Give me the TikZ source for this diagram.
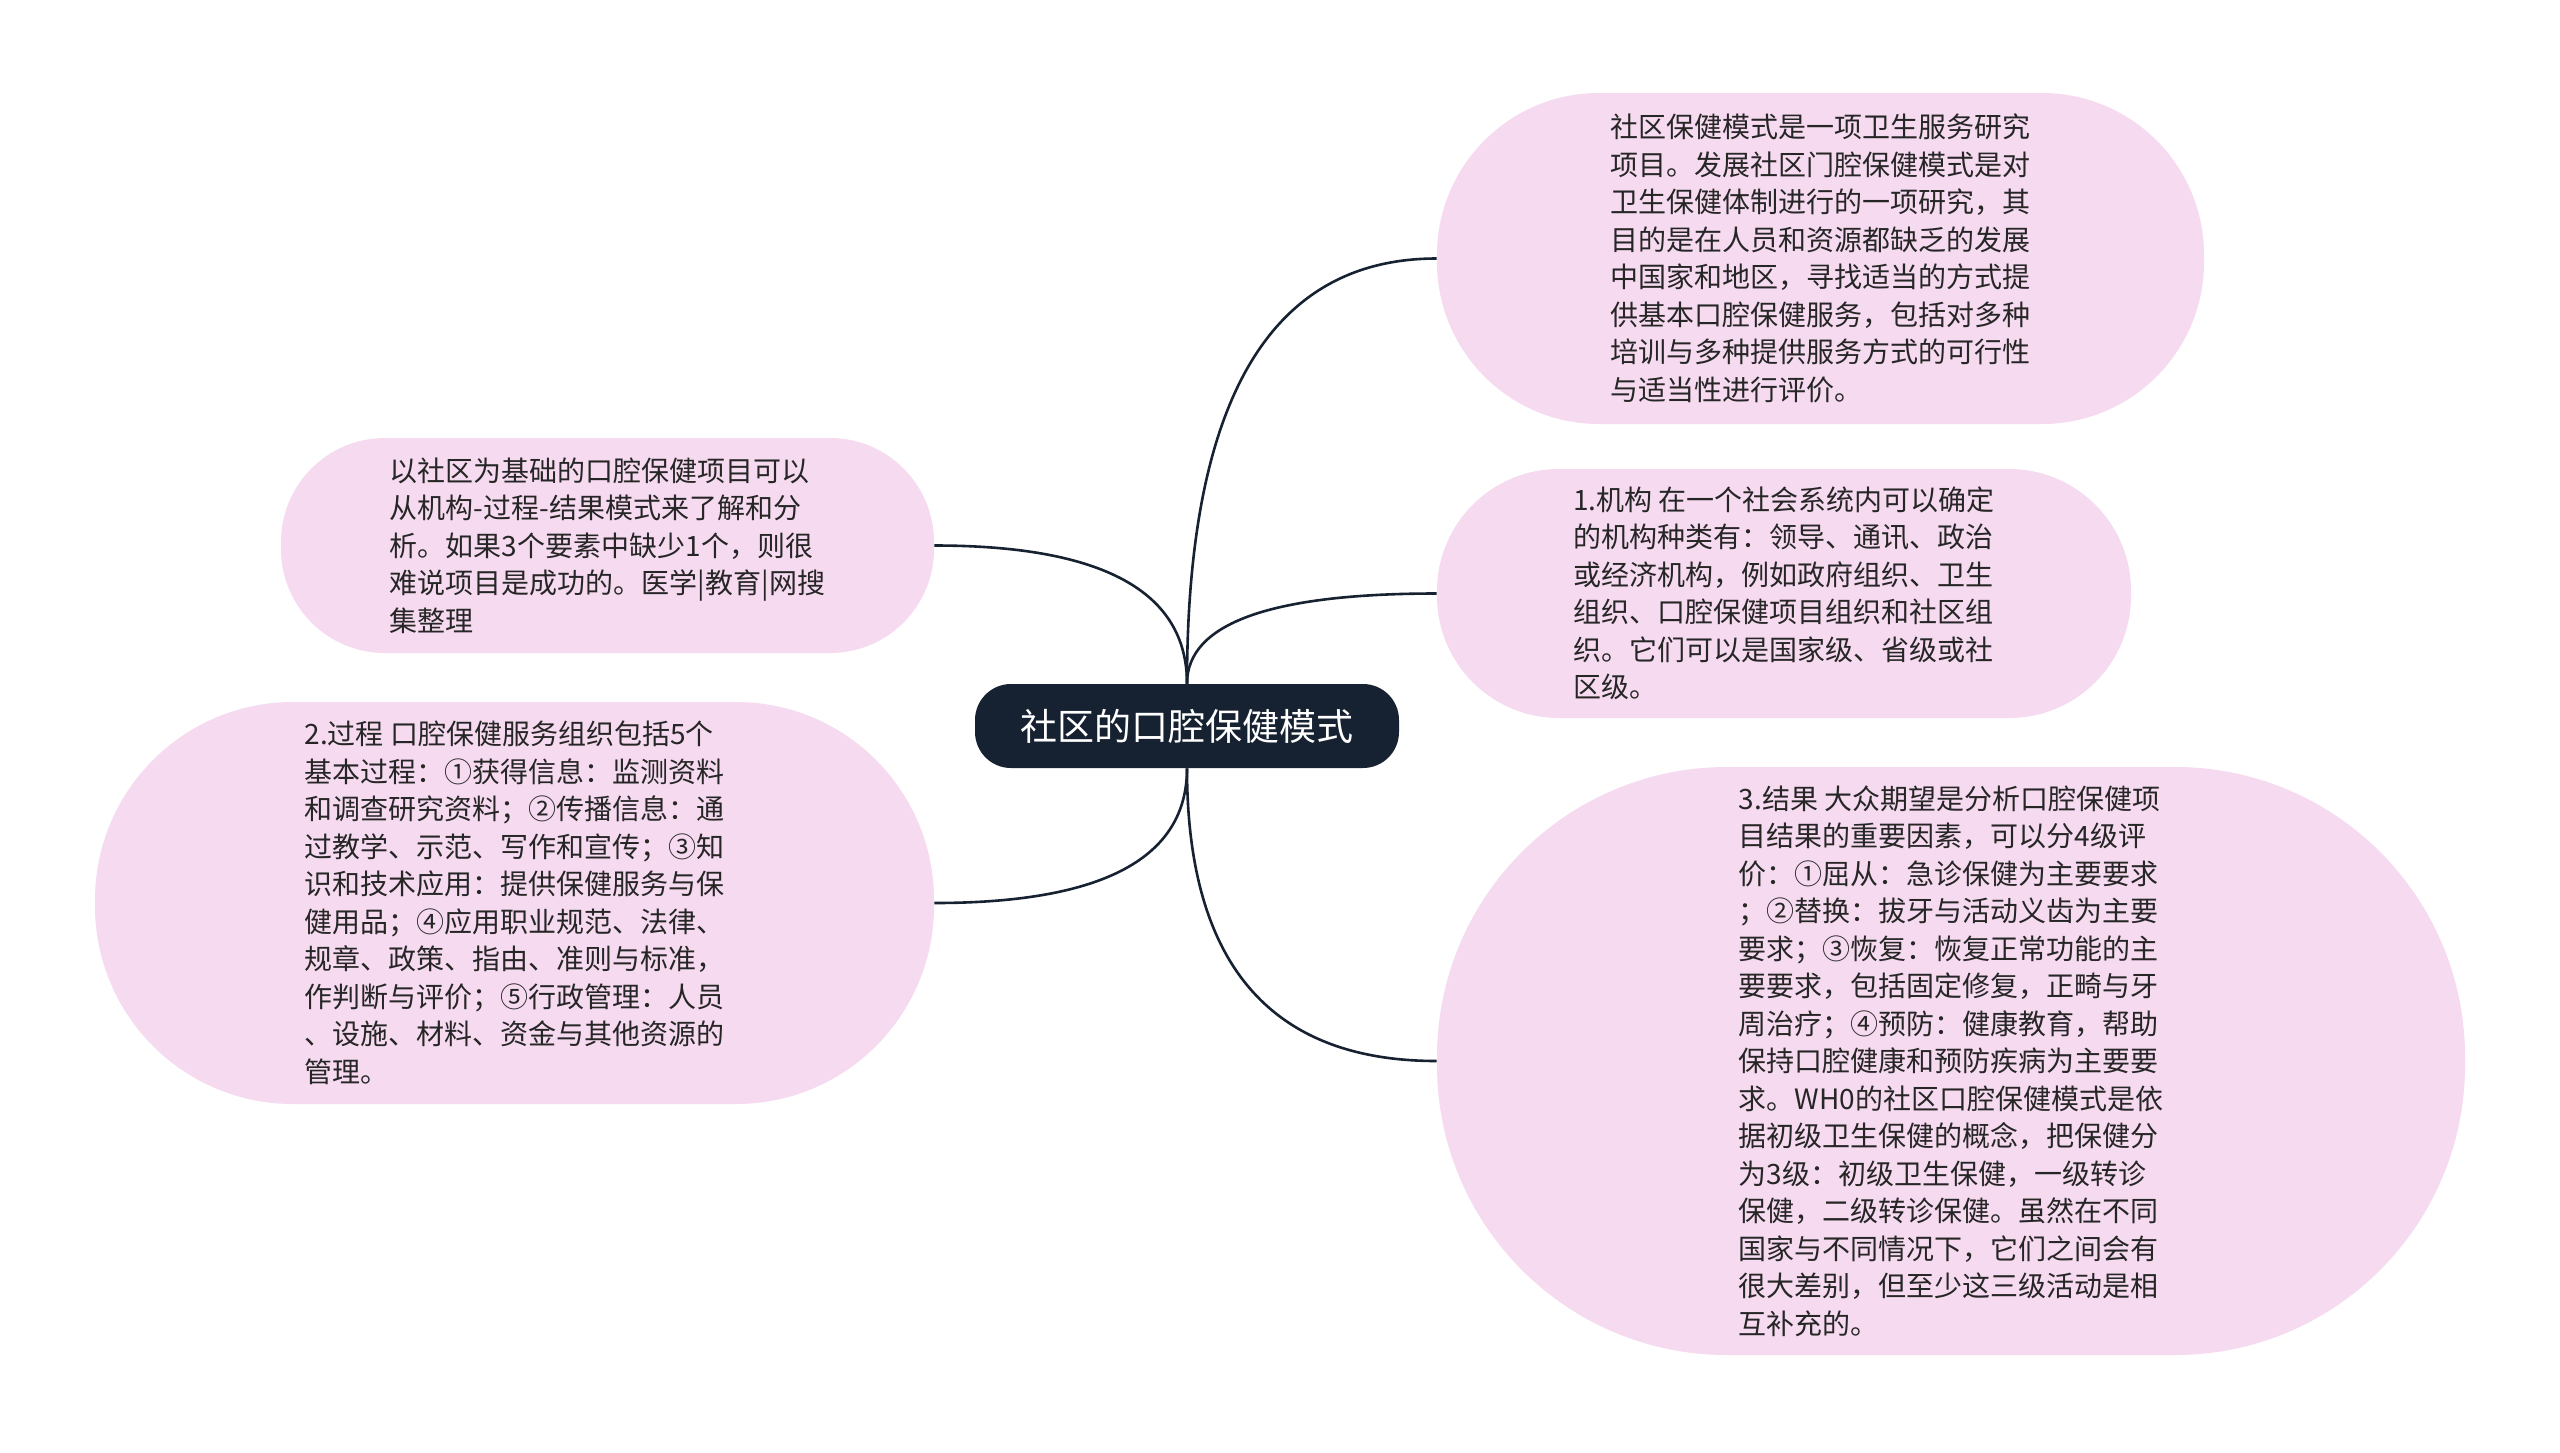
\documentclass[tikz,border=0pt]{standalone}
\usepackage{fontspec}
\setmainfont{Noto Sans CJK SC}
\usepackage{tikz}
\usetikzlibrary{calc}
\definecolor{topicfill}{RGB}{22,33,49}
\definecolor{subfill}{RGB}{246,218,240}
\definecolor{subtext}{RGB}{38,38,38}

\begin{document}
\begin{tikzpicture}[x=0.5pt,y=-0.5pt,
  topic/.style={rectangle,fill=topicfill,text=white,inner sep=0pt,
    font=\fontsize{18.5pt}{22pt}\selectfont},
  subtopic/.style={rectangle,fill=subfill,text=subtext,align=left,inner sep=0pt,
    font=\fontsize{14pt}{18.75pt}\selectfont},
  link/.style={draw=topicfill,line width=1.3pt}]
\useasboundingbox (0,0) rectangle (2560,1452);
\fill[white] (0,0) rectangle (2560,1452);

% Thema in der Mitte
\node[topic,minimum width=212pt,minimum height=42pt,rounded corners=18pt] (thema) at (1187,726) {社区的口腔保健模式};

% rechte Seite
\node[subtopic,minimum width=383.5pt,minimum height=165.5pt,rounded corners=81pt] (modell) at (1820.5,258.5) {
社区保健模式是一项卫生服务研究\\
项目。发展社区门腔保健模式是对\\
卫生保健体制进行的一项研究，其\\
目的是在人员和资源都缺乏的发展\\
中国家和地区，寻找适当的方式提\\
供基本口腔保健服务，包括对多种\\
培训与多种提供服务方式的可行性\\
与适当性进行评价。};
\node[subtopic,minimum width=347pt,minimum height=124.5pt,rounded corners=61pt] (jigou) at (1784,593.5) {
1.机构 在一个社会系统内可以确定\\
的机构种类有：领导、通讯、政治\\
或经济机构，例如政府组织、卫生\\
组织、口腔保健项目组织和社区组\\
织。它们可以是国家级、省级或社\\
区级。};
\node[subtopic,minimum width=514pt,minimum height=294pt,rounded corners=145pt] (jieguo) at (1951,1061) {
3.结果 大众期望是分析口腔保健项\\
目结果的重要因素，可以分4级评\\
价：①屈从：急诊保健为主要要求\\
；②替换：拔牙与活动义齿为主要\\
要求；③恢复：恢复正常功能的主\\
要要求，包括固定修复，正畸与牙\\
周治疗；④预防：健康教育，帮助\\
保持口腔健康和预防疾病为主要要\\
求。WH0的社区口腔保健模式是依\\
据初级卫生保健的概念，把保健分\\
为3级：初级卫生保健，一级转诊\\
保健，二级转诊保健。虽然在不同\\
国家与不同情况下，它们之间会有\\
很大差别，但至少这三级活动是相\\
互补充的。};

% linke Seite
\node[subtopic,minimum width=326.5pt,minimum height=107.5pt,rounded corners=52pt] (jichu) at (607.5,545.5) {
以社区为基础的口腔保健项目可以\\
从机构-过程-结果模式来了解和分\\
析。如果3个要素中缺少1个，则很\\
难说项目是成功的。医学|教育|网搜\\
集整理};
\node[subtopic,minimum width=419.5pt,minimum height=201pt,rounded corners=99pt] (guocheng) at (514.5,903) {
2.过程 口腔保健服务组织包括5个\\
基本过程：①获得信息：监测资料\\
和调查研究资料；②传播信息：通\\
过教学、示范、写作和宣传；③知\\
识和技术应用：提供保健服务与保\\
健用品；④应用职业规范、法律、\\
规章、政策、指由、准则与标准，\\
作判断与评价；⑤行政管理：人员\\
、设施、材料、资金与其他资源的\\
管理。};

% Verbindungen
\draw[link] (thema.north) .. controls ($(thema.north)!0.667!(thema.north |- modell.west)$) and ($(modell.west)!0.667!(thema.north |- modell.west)$) .. (modell.west);
\draw[link] (thema.north) .. controls ($(thema.north)!0.667!(thema.north |- jigou.west)$) and ($(jigou.west)!0.667!(thema.north |- jigou.west)$) .. (jigou.west);
\draw[link] (thema.south) .. controls ($(thema.south)!0.667!(thema.south |- jieguo.west)$) and ($(jieguo.west)!0.667!(thema.south |- jieguo.west)$) .. (jieguo.west);
\draw[link] (thema.north) .. controls ($(thema.north)!0.667!(thema.north |- jichu.east)$) and ($(jichu.east)!0.667!(thema.north |- jichu.east)$) .. (jichu.east);
\draw[link] (thema.south) .. controls ($(thema.south)!0.667!(thema.south |- guocheng.east)$) and ($(guocheng.east)!0.667!(thema.south |- guocheng.east)$) .. (guocheng.east);
\end{tikzpicture}
\end{document}
